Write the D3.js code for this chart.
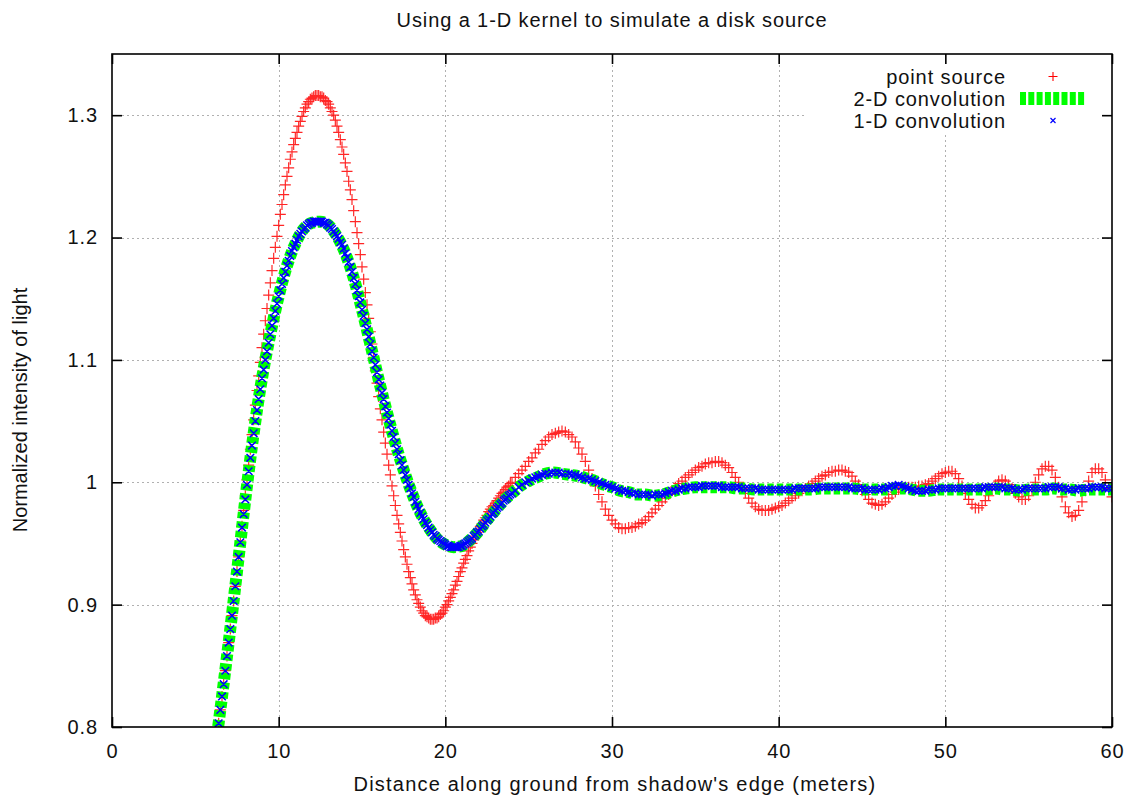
<!DOCTYPE html>
<html>
<head>
<meta charset="utf-8">
<script src="https://cdn.jsdelivr.net/npm/d3@7"></script>
<style>
body { margin: 0; background: #fff; }
text { font-family: "Liberation Sans", Arial, Helvetica, sans-serif; fill: #111; letter-spacing: 0.9px; }
</style>
</head>
<body>
<script>

// sample positions along the ground (m): every 0.1 m up to 24 m, then every 0.2 m
const xFine = d3.range(60, 241).map(i => i / 10);
const xCoarse = d3.range(121, 301).map(i => i / 5);
const xSamples = xFine.concat(xCoarse);
// the 2-D convolution curve was read every 0.5 m
const xHalf = d3.range(12, 121).map(i => i / 2);

// point source (red +)
const pointSource = [
    0.762, 0.772, 0.782, 0.792, 0.803, 0.814, 0.825, 0.835, 0.846, 0.858,
    0.869, 0.880, 0.891, 0.903, 0.915, 0.927, 0.939, 0.952, 0.964, 0.977,
    0.989, 1.002, 1.014, 1.027, 1.039, 1.051, 1.063, 1.075, 1.087, 1.098,
    1.110, 1.121, 1.132, 1.142, 1.153, 1.163, 1.173, 1.183, 1.192, 1.201,
    1.210, 1.219, 1.227, 1.235, 1.243, 1.250, 1.257, 1.264, 1.270, 1.276,
    1.281, 1.286, 1.291, 1.295, 1.299, 1.303, 1.306, 1.309, 1.311, 1.313,
    1.314, 1.315, 1.316, 1.316, 1.316, 1.315, 1.315, 1.314, 1.312, 1.311,
    1.309, 1.306, 1.303, 1.300, 1.296, 1.291, 1.286, 1.280, 1.274, 1.268,
    1.261, 1.254, 1.246, 1.239, 1.231, 1.222, 1.213, 1.204, 1.195, 1.186,
    1.176, 1.166, 1.155, 1.145, 1.134, 1.123, 1.113, 1.102, 1.091, 1.081,
    1.070, 1.060, 1.051, 1.041, 1.032, 1.023, 1.014, 1.006, 0.997, 0.989,
    0.981, 0.973, 0.966, 0.959, 0.952, 0.945, 0.939, 0.933, 0.927, 0.922,
    0.917, 0.912, 0.908, 0.904, 0.901, 0.898, 0.895, 0.893, 0.891, 0.890,
    0.889, 0.888, 0.888, 0.888, 0.889, 0.889, 0.890, 0.892, 0.893, 0.895,
    0.898, 0.900, 0.903, 0.906, 0.909, 0.912, 0.916, 0.919, 0.923, 0.927,
    0.930, 0.934, 0.937, 0.940, 0.944, 0.947, 0.950, 0.953, 0.956, 0.959,
    0.961, 0.964, 0.966, 0.969, 0.971, 0.973, 0.976, 0.978, 0.980, 0.981,
    0.983, 0.985, 0.987, 0.989, 0.991, 0.992, 0.994, 0.996, 0.997, 0.999,
    1.000,
    1.004, 1.007, 1.010, 1.013, 1.017, 1.020, 1.024, 1.027, 1.031, 1.034,
    1.037, 1.039, 1.040, 1.041, 1.042, 1.041, 1.039, 1.037, 1.033, 1.028,
    1.023, 1.017, 1.010, 1.003, 0.997, 0.990, 0.984, 0.978, 0.973, 0.969,
    0.966, 0.963, 0.962, 0.962, 0.963, 0.963, 0.964, 0.966, 0.967, 0.969,
    0.972, 0.975, 0.978, 0.981, 0.984, 0.987, 0.990, 0.993, 0.996, 0.999,
    1.001, 1.004, 1.006, 1.008, 1.010, 1.012, 1.013, 1.015, 1.016, 1.016,
    1.017, 1.017, 1.016, 1.014, 1.012, 1.008, 1.004, 1.000, 0.995, 0.991,
    0.987, 0.983, 0.980, 0.978, 0.977, 0.977, 0.977, 0.978, 0.979, 0.980,
    0.981, 0.983, 0.985, 0.987, 0.989, 0.991, 0.993, 0.995, 0.997, 0.999,
    1.001, 1.003, 1.005, 1.006, 1.008, 1.009, 1.009, 1.010, 1.010, 1.009,
    1.008, 1.005, 1.001, 0.998, 0.993, 0.990, 0.986, 0.983, 0.982, 0.981,
    0.982, 0.984, 0.987, 0.990, 0.992, 0.994, 0.995, 0.996, 0.996, 0.996,
    0.996, 0.997, 0.997, 0.998, 0.999, 1.001, 1.003, 1.005, 1.007, 1.008,
    1.009, 1.009, 1.007, 1.003, 0.997, 0.991, 0.986, 0.982, 0.979, 0.979,
    0.981, 0.985, 0.989, 0.994, 0.998, 1.001, 1.002, 1.001, 0.998, 0.995,
    0.991, 0.988, 0.986, 0.986, 0.989, 0.994, 1.000, 1.006, 1.011, 1.013,
    1.013, 1.010, 1.004, 0.996, 0.988, 0.980, 0.975, 0.972, 0.973, 0.977,
    0.984, 0.993, 1.001, 1.008, 1.011, 1.011, 1.008, 1.002, 0.995, 0.988
];

// 1-D convolution (blue x)
const conv1d = [
    0.762, 0.772, 0.782, 0.792, 0.803, 0.814, 0.825, 0.835, 0.846, 0.858,
    0.869, 0.880, 0.891, 0.903, 0.915, 0.927, 0.939, 0.951, 0.963, 0.974,
    0.986, 0.998, 1.009, 1.020, 1.030, 1.040, 1.050, 1.059, 1.068, 1.076,
    1.085, 1.092, 1.100, 1.107, 1.114, 1.121, 1.128, 1.134, 1.140, 1.146,
    1.152, 1.157, 1.162, 1.167, 1.172, 1.177, 1.181, 1.185, 1.189, 1.192,
    1.195, 1.198, 1.201, 1.203, 1.205, 1.207, 1.208, 1.210, 1.211, 1.212,
    1.212, 1.213, 1.213, 1.213, 1.213, 1.213, 1.213, 1.212, 1.212, 1.211,
    1.210, 1.208, 1.207, 1.205, 1.203, 1.201, 1.199, 1.196, 1.194, 1.191,
    1.187, 1.184, 1.180, 1.176, 1.172, 1.167, 1.162, 1.157, 1.152, 1.147,
    1.141, 1.136, 1.130, 1.125, 1.119, 1.113, 1.107, 1.102, 1.096, 1.090,
    1.084, 1.079, 1.073, 1.068, 1.062, 1.057, 1.052, 1.047, 1.042, 1.037,
    1.032, 1.027, 1.023, 1.018, 1.014, 1.010, 1.006, 1.002, 0.998, 0.995,
    0.991, 0.988, 0.984, 0.981, 0.978, 0.975, 0.972, 0.970, 0.967, 0.965,
    0.963, 0.961, 0.959, 0.957, 0.956, 0.954, 0.953, 0.952, 0.951, 0.950,
    0.949, 0.948, 0.948, 0.947, 0.947, 0.947, 0.947, 0.947, 0.947, 0.948,
    0.948, 0.949, 0.950, 0.951, 0.952, 0.953, 0.954, 0.956, 0.957, 0.959,
    0.960, 0.962, 0.964, 0.965, 0.967, 0.969, 0.970, 0.972, 0.974, 0.975,
    0.977, 0.979, 0.980, 0.982, 0.983, 0.985, 0.986, 0.987, 0.989, 0.990,
    0.991,
    0.993, 0.996, 0.998, 1.000, 1.001, 1.003, 1.004, 1.005, 1.006, 1.007,
    1.007, 1.008, 1.008, 1.008, 1.007, 1.007, 1.007, 1.006, 1.006, 1.005,
    1.004, 1.003, 1.003, 1.002, 1.001, 1.000, 0.999, 0.998, 0.997, 0.996,
    0.995, 0.994, 0.993, 0.993, 0.992, 0.991, 0.991, 0.990, 0.990, 0.990,
    0.990, 0.989, 0.990, 0.990, 0.990, 0.991, 0.992, 0.993, 0.993, 0.994,
    0.995, 0.995, 0.996, 0.996, 0.996, 0.996, 0.997, 0.997, 0.997, 0.997,
    0.997, 0.997, 0.996, 0.996, 0.996, 0.996, 0.996, 0.996, 0.995, 0.995,
    0.995, 0.995, 0.995, 0.994, 0.994, 0.994, 0.994, 0.994, 0.994, 0.994,
    0.994, 0.994, 0.994, 0.994, 0.995, 0.995, 0.995, 0.995, 0.995, 0.995,
    0.995, 0.996, 0.996, 0.996, 0.996, 0.996, 0.996, 0.996, 0.996, 0.996,
    0.996, 0.995, 0.995, 0.995, 0.995, 0.994, 0.994, 0.994, 0.994, 0.994,
    0.995, 0.995, 0.996, 0.997, 0.997, 0.998, 0.997, 0.996, 0.995, 0.994,
    0.993, 0.993, 0.993, 0.993, 0.994, 0.994, 0.994, 0.995, 0.995, 0.995,
    0.995, 0.995, 0.995, 0.995, 0.995, 0.995, 0.995, 0.995, 0.995, 0.995,
    0.995, 0.996, 0.996, 0.996, 0.996, 0.996, 0.996, 0.995, 0.995, 0.995,
    0.994, 0.994, 0.994, 0.995, 0.995, 0.995, 0.995, 0.995, 0.995, 0.995,
    0.996, 0.996, 0.996, 0.996, 0.995, 0.995, 0.994, 0.994, 0.994, 0.995,
    0.995, 0.995, 0.995, 0.996, 0.996, 0.996, 0.996, 0.995, 0.995, 0.995
];

// 2-D convolution (thick green dashed line), every 0.5 m
const conv2d = [
    0.762, 0.814, 0.869, 0.927, 0.986, 1.040, 1.085, 1.121, 1.152, 1.177,
    1.195, 1.207, 1.212, 1.213, 1.210, 1.201, 1.187, 1.167, 1.141, 1.113,
    1.084, 1.057, 1.032, 1.010, 0.991, 0.975, 0.963, 0.954, 0.949, 0.947,
    0.948, 0.953, 0.960, 0.969, 0.977, 0.985, 0.991, 0.997, 1.001, 1.004,
    1.007, 1.008, 1.007, 1.006, 1.005, 1.003, 1.001, 0.998, 0.996, 0.993,
    0.992, 0.990, 0.990, 0.989, 0.990, 0.992, 0.994, 0.995, 0.996, 0.996,
    0.996, 0.996, 0.996, 0.995, 0.995, 0.994, 0.994, 0.994, 0.994, 0.994,
    0.994, 0.994, 0.994, 0.995, 0.995, 0.995, 0.995, 0.995, 0.994, 0.994,
    0.994, 0.994, 0.995, 0.995, 0.994, 0.993, 0.993, 0.994, 0.994, 0.994,
    0.994, 0.994, 0.994, 0.994, 0.995, 0.994, 0.994, 0.993, 0.994, 0.994,
    0.994, 0.995, 0.994, 0.994, 0.993, 0.994, 0.994, 0.994, 0.994
];

const xTicks = [0, 10, 20, 30, 40, 50, 60];
const yTicks = [0.8, 0.9, 1.0, 1.1, 1.2, 1.3];
const yTickLabels = ["0.8", "0.9", "1", "1.1", "1.2", "1.3"];
const seriesNames = ["point source", "2-D convolution", "1-D convolution"];

const WIDTH = 1131;
const HEIGHT = 797;
const MARGIN = {
    TOP : 54,
    BOTTOM : 70,
    LEFT : 112,
    RIGHT : 19,
};

var svg = d3.select("body").append("svg")
    .attr("width", WIDTH)
    .attr("height", HEIGHT);

const x = d3.scaleLinear().domain([0, 60]).range([MARGIN.LEFT, WIDTH - MARGIN.RIGHT]);
const y = d3.scaleLinear().domain([0.8, 1.35]).range([HEIGHT - MARGIN.BOTTOM, MARGIN.TOP]);

// dotted grid
const grid = svg.append("g")
    .attr("stroke", "#b0b0b0")
    .attr("stroke-width", 1)
    .attr("stroke-dasharray", "2,3");
grid.selectAll(".gx")
    .data(xTicks.slice(1, -1))
    .enter().append("line")
    .attr("x1", d => Math.round(x(d)) + 0.5)
    .attr("x2", d => Math.round(x(d)) + 0.5)
    .attr("y1", y(0.8))
    .attr("y2", y(1.35));
grid.selectAll(".gy")
    .data(yTicks.slice(1))
    .enter().append("line")
    .attr("x1", x(0))
    .attr("x2", x(60))
    .attr("y1", d => Math.round(y(d)) + 0.5)
    .attr("y2", d => Math.round(y(d)) + 0.5);

// key area stays clear of the grid
svg.append("rect")
    .attr("x", 806).attr("y", 55)
    .attr("width", 305).attr("height", 80)
    .attr("fill", "#fff");

svg.append("clipPath").attr("id", "plot-clip")
    .append("rect")
    .attr("x", x(0)).attr("y", y(1.35))
    .attr("width", x(60) - x(0)).attr("height", y(0.8) - y(1.35));

const plot = svg.append("g").attr("clip-path", "url(#plot-clip)");

function plusPath(px, py, r) {
    return `M${px - r},${py}h${2 * r}M${px},${py - r}v${2 * r}`;
}
function crossPath(px, py, r) {
    return `M${px - r},${py - r}l${2 * r},${2 * r}M${px - r},${py + r}l${2 * r},${-2 * r}`;
}

// point source
const redPts = xSamples.map((d, i) => [d, pointSource[i]]).filter(p => p[1] >= 0.8);
plot.append("path")
    .attr("d", redPts.map(p => plusPath(x(p[0]), y(p[1]), 5.5)).join(""))
    .attr("fill", "none")
    .attr("stroke", "#ff0000")
    .attr("stroke-opacity", 0.85)
    .attr("stroke-width", 1.2);

// 2-D convolution
const line2d = d3.line()
    .x((d, i) => x(xHalf[i]))
    .y(d => y(d))
    .curve(d3.curveMonotoneX);
plot.append("path")
    .attr("d", line2d(conv2d))
    .attr("fill", "none")
    .attr("stroke", "#00ff00")
    .attr("stroke-width", 12)
    .attr("stroke-dasharray", "6.5,3");

// 1-D convolution
const bluePts = xSamples.map((d, i) => [d, conv1d[i]]).filter(p => p[1] >= 0.8);
plot.append("path")
    .attr("d", bluePts.map(p => crossPath(x(p[0]), y(p[1]), 3.8)).join(""))
    .attr("fill", "none")
    .attr("stroke", "#0000ff")
    .attr("stroke-width", 1.5);

// border
svg.append("rect")
    .attr("x", x(0)).attr("y", y(1.35))
    .attr("width", x(60) - x(0)).attr("height", y(0.8) - y(1.35))
    .attr("fill", "none")
    .attr("stroke", "#000")
    .attr("stroke-width", 1.6);

// axes, ticks point inwards on all four sides
function styleAxis(g) {
    g.select(".domain").remove();
    g.attr("color", "#000");
    g.selectAll(".tick line").attr("stroke-width", 1.6);
    g.selectAll("text")
        .attr("font-size", 20)
        .attr("font-family", null);
}

svg.append("g")
    .attr("transform", `translate(0,${y(0.8)})`)
    .call(d3.axisBottom(x).tickValues(xTicks).tickSizeInner(-10).tickSizeOuter(0).tickPadding(17))
    .call(styleAxis);

svg.append("g")
    .attr("transform", `translate(0,${y(1.35)})`)
    .call(d3.axisTop(x).tickValues(xTicks).tickSizeInner(-10).tickSizeOuter(0).tickFormat(""))
    .call(styleAxis);

svg.append("g")
    .attr("transform", `translate(${x(0)},0)`)
    .call(d3.axisLeft(y).tickValues(yTicks).tickSizeInner(-10).tickSizeOuter(0).tickPadding(14)
        .tickFormat((d, i) => yTickLabels[i]))
    .call(styleAxis);

svg.append("g")
    .attr("transform", `translate(${x(60)},0)`)
    .call(d3.axisRight(y).tickValues(yTicks).tickSizeInner(-10).tickSizeOuter(0).tickFormat(""))
    .call(styleAxis);

// title and axis labels
svg.append("text")
    .attr("x", (x(0) + x(60)) / 2)
    .attr("y", 20)
    .attr("dy", "0.35em")
    .attr("text-anchor", "middle")
    .attr("font-size", 20)
    .text("Using a 1-D kernel to simulate a disk source");

svg.append("text")
    .attr("x", (x(0) + x(60)) / 2 + 3)
    .attr("y", 784)
    .attr("dy", "0.35em")
    .attr("text-anchor", "middle")
    .attr("font-size", 20)
    .style("letter-spacing", "1.2px")
    .text("Distance along ground from shadow's edge (meters)");

svg.append("text")
    .attr("transform", "translate(20,410) rotate(-90)")
    .attr("dy", "0.35em")
    .attr("text-anchor", "middle")
    .attr("font-size", 20)
    .style("letter-spacing", "0px")
    .text("Normalized intensity of light");

// key
const key = svg.append("g");
seriesNames.forEach((name, i) => {
    const ky = 76.5 + i * 22;
    key.append("text")
        .attr("x", 1006)
        .attr("y", ky)
        .attr("dy", "0.35em")
        .attr("text-anchor", "end")
        .attr("font-size", 20)
        .text(name);
    if (i === 0) {
        key.append("path")
            .attr("d", plusPath(1053, ky, 4.5))
            .attr("stroke", "#ff0000")
            .attr("stroke-width", 1.1);
    } else if (i === 1) {
        key.append("line")
            .attr("x1", 1020).attr("x2", 1086)
            .attr("y1", ky).attr("y2", ky)
            .attr("stroke", "#00ff00")
            .attr("stroke-width", 13)
            .attr("stroke-dasharray", "6,2.3");
    } else {
        key.append("path")
            .attr("d", crossPath(1053, ky, 2.5))
            .attr("stroke", "#0000ff")
            .attr("stroke-width", 1.2);
    }
});

</script>
</body>
</html>
